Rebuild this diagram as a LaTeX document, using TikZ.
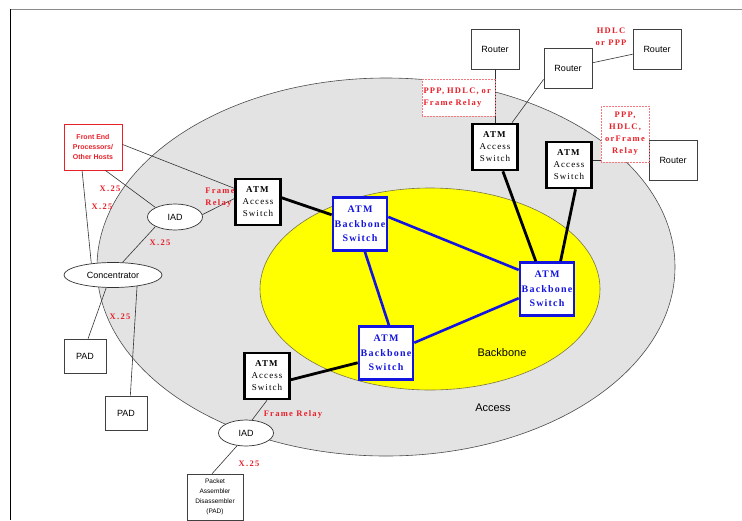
\documentclass[tikz,border=0pt]{standalone}
\usepackage{fontspec}
\setmainfont{Liberation Serif}
\setsansfont{Liberation Sans}
\newfontfamily\spacedserif[LetterSpace=12]{Liberation Serif}
\newfontfamily\wideserif[LetterSpace=15]{Liberation Serif}
\usepackage{tikz}
\usetikzlibrary{shapes.geometric, positioning, calc, backgrounds}
\usepackage{xcolor}
\definecolor{linkred}{HTML}{E8202A}
\definecolor{bbblue}{HTML}{1414E0}
\definecolor{accessgray}{HTML}{E3E3E3}
\definecolor{coreyellow}{HTML}{FFFF00}
\definecolor{framegray}{HTML}{8C8C8C}

\begin{document}
\begin{tikzpicture}[
                x=1pt, y=-1pt,
                router/.style={draw=black!75, fill=white, line width=0.8pt, minimum width=48pt, minimum height=40pt, inner sep=1pt, font=\sffamily\fontsize{9}{11}\selectfont},
                access/.style={draw=black, fill=white, line width=2.6pt, minimum width=45pt, minimum height=46pt, inner sep=1pt, align=center, font=\spacedserif\fontsize{9}{12}\selectfont},
                backbone/.style={draw=bbblue, fill=white, line width=2.6pt, minimum width=54pt, minimum height=53pt, inner sep=0.5pt, align=center, text=bbblue, font=\spacedserif\bfseries\fontsize{10}{14.5}\selectfont},
                iad/.style={ellipse, draw=black!80, fill=white, line width=0.7pt, minimum width=55pt, minimum height=26pt, inner sep=0pt, font=\sffamily\fontsize{9}{11}\selectfont},
                pad/.style={draw=black!75, fill=white, line width=0.7pt, minimum width=42pt, minimum height=34pt, inner sep=1pt, align=center, font=\sffamily\fontsize{9}{11}\selectfont},
                proto/.style={text=linkred, align=center, inner sep=1pt, font=\wideserif\bfseries\fontsize{8.5}{12}\selectfont},
                protobox/.style={proto, draw=linkred!60, densely dotted, fill=white, line width=0.5pt},
                region/.style={font=\sffamily\fontsize{11}{13}\selectfont},
                wire/.style={draw=black!80, line width=0.6pt},
                trunk/.style={draw=black, line width=2.8pt},
                bblink/.style={draw=bbblue, line width=2.6pt}
            ]
                \useasboundingbox (0,0) rectangle (742,520);
                \draw[framegray, line width=1.2pt] (10,9.5) -- (742,9.5);
                \draw[black, line width=1pt] (10,9) -- (10,520);

                \filldraw[fill=accessgray, draw=black!70, line width=0.6pt] (386,267) ellipse [x radius=289, y radius=189];
                \filldraw[fill=coreyellow, draw=black!60!yellow, line width=0.6pt] (430,289) ellipse [x radius=170, y radius=101];
                \node[region] (acclbl) at (493,408) {Access};
                \node[region] (bblbl) at (502,353) {Backbone};

                \node[router] (rtA) at (495,49) {Router};
                \node[router] (rtB) at (568,68) {Router};
                \node[router] (rtC) at (657,49) {Router};
                \node[router] (rtD) at (673,160) {Router};

                \node[access] (accA) at (495,147) {\textbf{ATM}\\Access\\Switch};
                \node[access] (accB) at (569,165) {\textbf{ATM}\\Access\\Switch};
                \node[access] (accC) at (258,202) {\textbf{ATM}\\Access\\Switch};
                \node[access] (accD) at (267,376) {\textbf{ATM}\\Access\\Switch};

                \node[backbone] (bbA) at (360,224) {ATM\\Backbone\\Switch};
                \node[backbone] (bbB) at (547,289) {ATM\\Backbone\\Switch};
                \node[backbone] (bbC) at (386,353) {ATM\\Backbone\\Switch};

                \node[draw=linkred, fill=white, line width=0.9pt, minimum width=58pt, minimum height=46pt, inner sep=1pt, align=center, text=linkred, font=\sffamily\bfseries\fontsize{7}{10}\selectfont] (fep) at (93,147) {Front End\\Processors/\\Other Hosts};
                \node[iad] (iadA) at (175,217) {IAD};
                \node[iad, minimum width=98pt, minimum height=25pt] (conc) at (113,275) {Concentrator};
                \node[pad] (padA) at (85,356) {PAD};
                \node[pad] (padB) at (126,413) {PAD};
                \node[iad] (iadB) at (246,433) {IAD};
                \node[pad, minimum width=56pt, minimum height=46pt, font=\sffamily\fontsize{6.5}{10}\selectfont] (padC) at (215,497) {Packet\\Assembler\\Disassembler\\(PAD)};

                \draw[wire] (rtA) -- (accA);
                \draw[wire] (rtB.205) -- (accA.55);
                \draw[wire] (rtB) -- (rtC);
                \draw[wire] (rtD.west) -- (rtD.west -| accB.east);
                \draw[wire] (fep.5) -- (accC.150);
                \draw[wire] (fep.-62) -- (iadA.154);
                \draw[wire] (fep.245) -- (conc.152);
                \draw[wire] (iadA.5) -- (accC.172);
                \draw[wire] (iadA.206) -- (conc.53);
                \draw[wire] (conc.-118) -- (padA.80);
                \draw[wire] (conc.-25) -- (padB.76);
                \draw[wire] (accD.south) -- (iadB.65);
                \draw[wire] (iadB.235) -- (padC.97);

                \draw[trunk] (accC.10) -- (bbA.162);
                \draw[trunk] (accD.-9) -- (bbC.199);
                \draw[trunk] (accA.-72) -- (bbB.112);
                \draw[trunk] (accB.-75) -- (bbB.64);

                \draw[bblink] (bbA.14) -- (bbB.146);
                \draw[bblink] (bbA.-80) -- (bbC.84);
                \draw[bblink] (bbB.198) -- (bbC.20);

                \node[proto] (hdlc) at (611,37) {HDLC\\or PPP};
                \node[protobox, minimum width=73pt, minimum height=37pt, text width=70pt, align=left] (pppA) at (458.5,97.5) {PPP, HDLC, or\\Frame Relay};
                \node[protobox, minimum width=48pt, minimum height=56pt] (pppB) at (625,134) {PPP,\\HDLC,\\orFrame\\Relay};
                \node[proto] (xA) at (110,189) {X.25};
                \node[proto] (xB) at (102,207) {X.25};
                \node[proto, align=left] (frA) at (220,198) {Frame\\Relay};
                \node[proto] (xC) at (160,243) {X.25};
                \node[proto] (xD) at (120,317) {X.25};
                \node[proto] (frB) at (293,414) {Frame Relay};
                \node[proto] (xE) at (249,464) {X.25};
            \end{tikzpicture}
\end{document}
